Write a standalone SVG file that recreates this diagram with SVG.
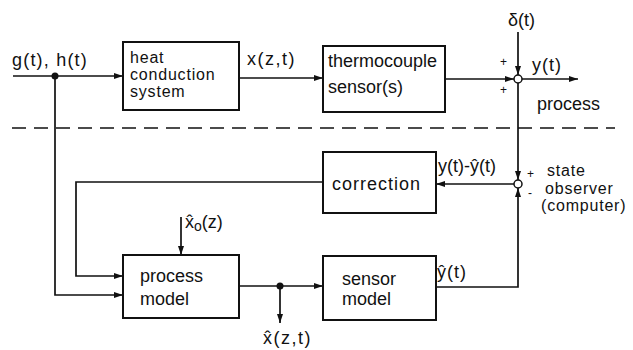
<svg xmlns="http://www.w3.org/2000/svg" width="633" height="350" viewBox="0 0 633 350">
<style>
text{font-family:"Liberation Sans","DejaVu Sans",sans-serif;font-size:18px;fill:#111}
.ml{font-size:16px;letter-spacing:0.8px}
.box{fill:#fff;stroke:#111;stroke-width:2}
.ln{fill:none;stroke:#111;stroke-width:1.7}
.sm{font-size:12px}
</style>
<defs>
<marker id="ah" markerUnits="userSpaceOnUse" markerWidth="9" markerHeight="6" refX="9" refY="3" orient="auto">
<path d="M0,0 L9,3 L0,6 z" fill="#111"/>
</marker>
</defs>
<g id="connectors">
<path class="ln" d="M13,76 H123" marker-end="url(#ah)"/>
<path class="ln" d="M55,76 V295 H123" marker-end="url(#ah)"/>
<path class="ln" d="M239,78 H323" marker-end="url(#ah)"/>
<path class="ln" d="M445,79 H514" marker-end="url(#ah)"/>
<path class="ln" d="M518,32 V75" marker-end="url(#ah)"/>
<path class="ln" d="M522,79 H578" marker-end="url(#ah)"/>
<path class="ln" d="M518,83 V180" marker-end="url(#ah)"/>
<path class="ln" d="M514,184 H436" marker-end="url(#ah)"/>
<path class="ln" d="M323,182 H76 V276 H123" marker-end="url(#ah)"/>
<path class="ln" d="M181,217 V255" marker-end="url(#ah)"/>
<path class="ln" d="M239,286 H323" marker-end="url(#ah)"/>
<path class="ln" d="M280,286 V323" marker-end="url(#ah)"/>
<path class="ln" d="M436,287 H518 V188" marker-end="url(#ah)"/>
<path class="ln" d="M12,128 H615" stroke-dasharray="14 8"/>
<circle cx="55" cy="76" r="3.5" fill="#111"/>
<circle cx="280" cy="286" r="3.5" fill="#111"/>
</g>
<g id="input-label"><text x="12" y="66" letter-spacing="1.2">g(t), h(t)</text></g>
<g id="heat-conduction-system">
<rect class="box" x="123" y="42" width="116" height="68"/>
<text class="ml" x="130" y="63">heat</text>
<text class="ml" x="130" y="80">conduction</text>
<text class="ml" x="130" y="97">system</text>
</g>
<g id="x-label"><text x="247" y="65" letter-spacing="1.5">x(z,t)</text></g>
<g id="thermocouple-sensors">
<rect class="box" x="323" y="46" width="122" height="66"/>
<text x="328" y="67">thermocouple</text>
<text x="328" y="93">sensor(s)</text>
</g>
<g id="sum-process">
<circle cx="518" cy="79" r="4" fill="#fff" stroke="#111" stroke-width="1.5"/>
<text x="508" y="26">δ(t)</text>
<text class="sm" x="500" y="66">+</text>
<text class="sm" x="500" y="94">+</text>
<text x="532" y="71" letter-spacing="1">y(t)</text>
<text x="537" y="110">process</text>
</g>
<g id="correction">
<rect class="box" x="323" y="152" width="113" height="61"/>
<text x="332" y="190" letter-spacing="1">correction</text>
</g>
<g id="sum-observer">
<circle cx="518" cy="184" r="4" fill="#fff" stroke="#111" stroke-width="1.5"/>
<text x="438" y="172">y(t)-ŷ(t)</text>
<text class="sm" x="527" y="178">+</text>
<text class="sm" x="528" y="197">-</text>
<text class="ml" x="547" y="176" letter-spacing="1.5">state</text>
<text class="ml" x="545" y="194" letter-spacing="1.8">observer</text>
<text class="ml" x="541" y="211" letter-spacing="1.2">(computer)</text>
</g>
<g id="process-model">
<rect class="box" x="123" y="255" width="116" height="63"/>
<text x="140" y="282">process</text>
<text x="140" y="305">model</text>
<text x="185" y="228">x̂<tspan dy="3" font-size="14">o</tspan><tspan dy="-3">(z)</tspan></text>
</g>
<g id="sensor-model">
<rect class="box" x="323" y="256" width="113" height="64"/>
<text x="342" y="285">sensor</text>
<text x="342" y="305">model</text>
<text x="437" y="278" letter-spacing="1">ŷ(t)</text>
</g>
<g id="xhat-label"><text x="263" y="344" letter-spacing="1.5">x̂(z,t)</text></g>
</svg>
